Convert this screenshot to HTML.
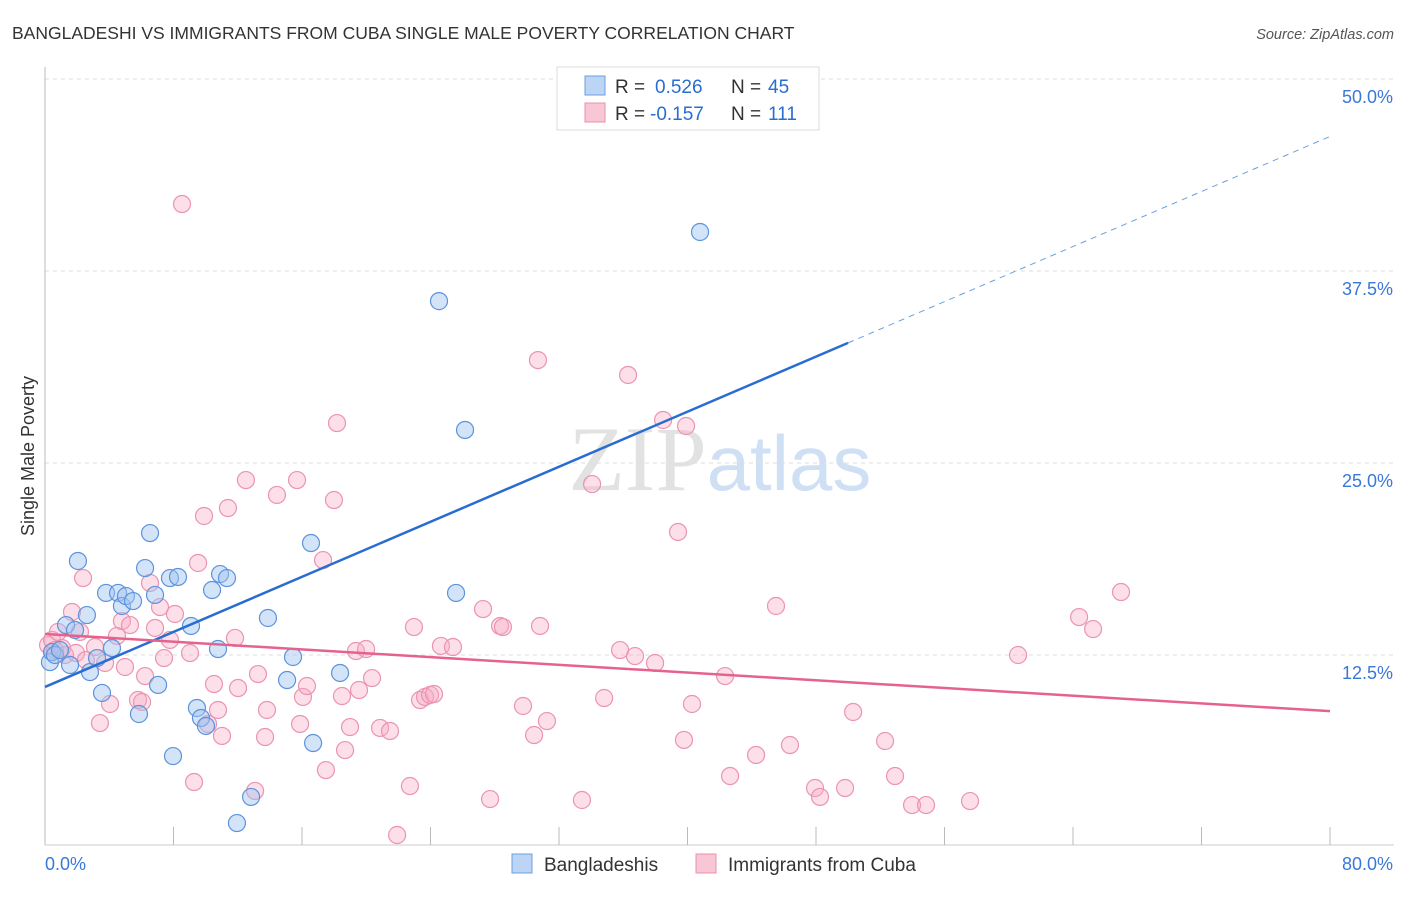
<!DOCTYPE html>
<html><head><meta charset="utf-8"><style>
body{margin:0;background:#fff;font-family:"Liberation Sans",sans-serif}
</style></head><body>
<svg id="chart" width="1406" height="892" xmlns="http://www.w3.org/2000/svg" font-family="Liberation Sans, sans-serif">
<text x="12" y="39" font-size="17.5" fill="#333">BANGLADESHI VS IMMIGRANTS FROM CUBA SINGLE MALE POVERTY CORRELATION CHART</text>
<text x="1394" y="39" font-size="14.5" fill="#555" font-style="italic" text-anchor="end">Source: ZipAtlas.com</text>
<text x="720" y="490" font-size="92" text-anchor="middle"><tspan fill="#e2e2e2" font-family="Liberation Serif, serif">ZIP</tspan><tspan fill="#cfe0f5" font-size="78">atlas</tspan></text>
<g id="grid"></g>
<g id="axes"></g>
<g id="marks"></g>
<g>
<rect x="557" y="67" width="262" height="63" fill="#fff" stroke="#ddd"/>
<rect x="585" y="76" width="20" height="19" fill="#bcd5f5" stroke="#6a9fe0"/>
<rect x="585" y="103" width="20" height="19" fill="#f9c6d5" stroke="#e890aa"/>
<text y="93" font-size="19" fill="#333"><tspan x="615">R =</tspan><tspan x="655" fill="#2a6dd0">0.526</tspan><tspan x="731">N =</tspan><tspan x="768" fill="#2a6dd0">45</tspan></text>
<text y="120" font-size="19" fill="#333"><tspan x="615">R =</tspan><tspan x="650" fill="#2a6dd0">-0.157</tspan><tspan x="731">N =</tspan><tspan x="768" fill="#2a6dd0">111</tspan></text>
</g>
<g>
<rect x="512" y="854" width="20" height="19" fill="#bcd5f5" stroke="#6a9fe0"/>
<text x="544" y="871" font-size="19" fill="#333">Bangladeshis</text>
<rect x="696" y="854" width="20" height="19" fill="#f9c6d5" stroke="#e890aa"/>
<text x="728" y="871" font-size="19" fill="#333">Immigrants from Cuba</text>
</g>
<text transform="translate(34,456) rotate(-90)" font-size="18" fill="#333" text-anchor="middle">Single Male Poverty</text>
</svg>
<script>
const yTicks=[12.5,25.0,37.5,50.0];
const yTickLabels=["12.5%","25.0%","37.5%","50.0%"];
const xTickVals=[0,8,16,24,32,40,48,56,64,72,80];
const xEndLabels=["0.0%","80.0%"];
const blueX=[0.31,0.44,0.62,0.93,1.31,1.56,1.87,2.05,2.61,2.80,3.24,3.55,3.80,4.17,4.55,4.79,5.04,5.48,5.85,6.23,6.54,6.85,7.04,7.78,7.97,8.28,9.09,9.46,9.71,10.02,10.40,10.77,10.90,11.33,11.95,12.83,13.88,15.07,15.44,16.56,16.69,18.37,24.53,25.59,26.15,40.78];
const blueY=[12.04,12.69,12.50,12.82,14.45,11.85,14.13,18.62,15.10,11.39,12.30,10.03,16.54,12.95,16.54,15.69,16.34,16.01,8.66,18.16,20.44,16.41,10.55,17.51,5.92,17.58,14.39,9.05,8.40,7.88,16.73,12.89,17.77,17.51,1.56,3.26,14.91,10.87,12.37,19.79,6.77,11.33,35.54,16.54,27.15,40.04];
const pinkX=[0.19,0.44,0.62,0.81,1.06,1.25,1.68,1.93,2.18,2.37,2.55,3.11,3.42,3.74,4.05,4.48,4.79,4.98,5.29,5.79,6.04,6.23,6.54,6.85,7.16,7.41,7.78,8.09,8.53,9.03,9.28,9.53,9.90,10.15,10.52,10.77,11.02,11.39,11.83,12.02,12.51,13.08,13.26,13.70,13.82,14.44,15.69,15.88,16.06,16.31,17.31,17.49,17.99,18.18,18.49,18.68,18.99,19.36,19.55,19.99,20.36,20.86,21.48,21.92,22.72,22.97,23.35,23.66,23.97,24.22,24.65,25.40,27.27,27.71,28.33,28.51,29.76,30.45,30.69,30.82,31.25,33.43,34.06,34.81,35.80,36.30,36.73,37.98,38.48,39.78,39.91,39.41,40.28,42.34,42.65,44.27,45.51,46.38,47.94,48.25,49.81,50.31,52.30,52.92,53.98,54.85,57.59,60.58,64.38,65.25,66.99];
const pinkY=[13.15,13.48,12.82,14.00,12.95,12.50,15.30,12.63,14.00,17.51,12.17,13.02,8.07,11.98,9.31,13.74,14.71,11.72,14.45,9.57,9.44,11.13,17.19,14.26,15.62,12.30,13.48,15.17,41.86,12.63,4.23,18.49,21.55,8.01,10.61,8.92,7.23,22.07,13.61,10.35,23.89,3.65,11.26,7.16,8.92,22.92,23.89,8.01,9.77,10.48,18.68,5.01,22.59,27.60,9.83,6.31,7.81,12.76,10.22,12.89,11.00,7.75,7.55,0.78,3.97,14.32,9.57,9.77,9.90,9.96,13.09,13.02,15.49,3.12,14.39,14.32,9.18,7.29,31.70,14.39,8.20,3.06,23.63,9.70,12.82,30.73,12.43,11.98,27.80,6.97,27.41,20.51,9.31,11.13,4.62,5.99,15.69,6.64,3.84,3.26,3.84,8.79,6.90,4.62,2.73,2.73,2.99,12.50,14.97,14.19,16.60];
const blueTrend=[10.42,0.448];
const pinkTrend=[13.87,-0.0628];
const NS="http://www.w3.org/2000/svg";
const X0=45,X1=1330,Y0=847,PY=15.36;
const sx=v=>X0+(X1-X0)*v/80, sy=v=>Y0-v*PY;
function mk(t,a,p){const e=document.createElementNS(NS,t);for(const k in a)e.setAttribute(k,a[k]);p.appendChild(e);return e;}
const grid=document.getElementById('grid'),axes=document.getElementById('axes'),marks=document.getElementById('marks');
yTicks.forEach((v,i)=>{
 const l=mk('line',{x1:X0,x2:1394,y1:sy(v),y2:sy(v),stroke:'#ddd','stroke-dasharray':'4,4'},grid);
 
 
 const t=mk('text',{x:1393,y:sy(v)+24,'font-size':18,fill:'#3a78d8','text-anchor':'end'},axes);
 t.textContent=yTickLabels[i];
 
 
});
const topGrid=mk('line',{x1:X0,x2:1394,y1:79,y2:79,stroke:'#ddd','stroke-dasharray':'4,4'},grid);


const ya=mk('line',{x1:X0,x2:X0,y1:67,y2:845,stroke:'#bbb'},axes);


const xa=mk('line',{x1:X0,x2:1394,y1:845,y2:845,stroke:'#ccc'},axes);


xTickVals.forEach(v=>{
 const l=mk('line',{x1:sx(v),x2:sx(v),y1:827,y2:845,stroke:'#bbb'},axes);
 
 
});
[[0,'start',45],[80,'end',1393]].forEach((d,i)=>{
 const t=mk('text',{x:d[2],y:870,'font-size':18,fill:'#3a78d8','text-anchor':d[1]},axes);
 t.textContent=xEndLabels[i];
 
 
});
pinkX.forEach((x,i)=>{
 const c=mk('circle',{cx:sx(x),cy:sy(pinkY[i]),r:8.5,fill:'rgba(246,170,196,0.38)',stroke:'#eb94b0','stroke-width':1.2},marks);
 
 
});
blueX.forEach((x,i)=>{
 const c=mk('circle',{cx:sx(x),cy:sy(blueY[i]),r:8.5,fill:'rgba(160,196,240,0.45)',stroke:'#5d93dc','stroke-width':1.2},marks);
 
 
});
const bt=v=>blueTrend[0]+blueTrend[1]*v, pt=v=>pinkTrend[0]+pinkTrend[1]*v;
const b1=mk('line',{x1:sx(0),y1:sy(bt(0)),x2:sx(50),y2:sy(bt(50)),stroke:'#2a6dd0','stroke-width':2.5},marks);


const b2=mk('line',{x1:sx(50),y1:sy(bt(50)),x2:sx(80),y2:sy(bt(80)),stroke:'#6a9fe0','stroke-width':1,'stroke-dasharray':'6,5'},marks);


const p1=mk('line',{x1:sx(0),y1:sy(pt(0)),x2:sx(80),y2:sy(pt(80)),stroke:'#e5628f','stroke-width':2.5},marks);


</script>
</body></html>
